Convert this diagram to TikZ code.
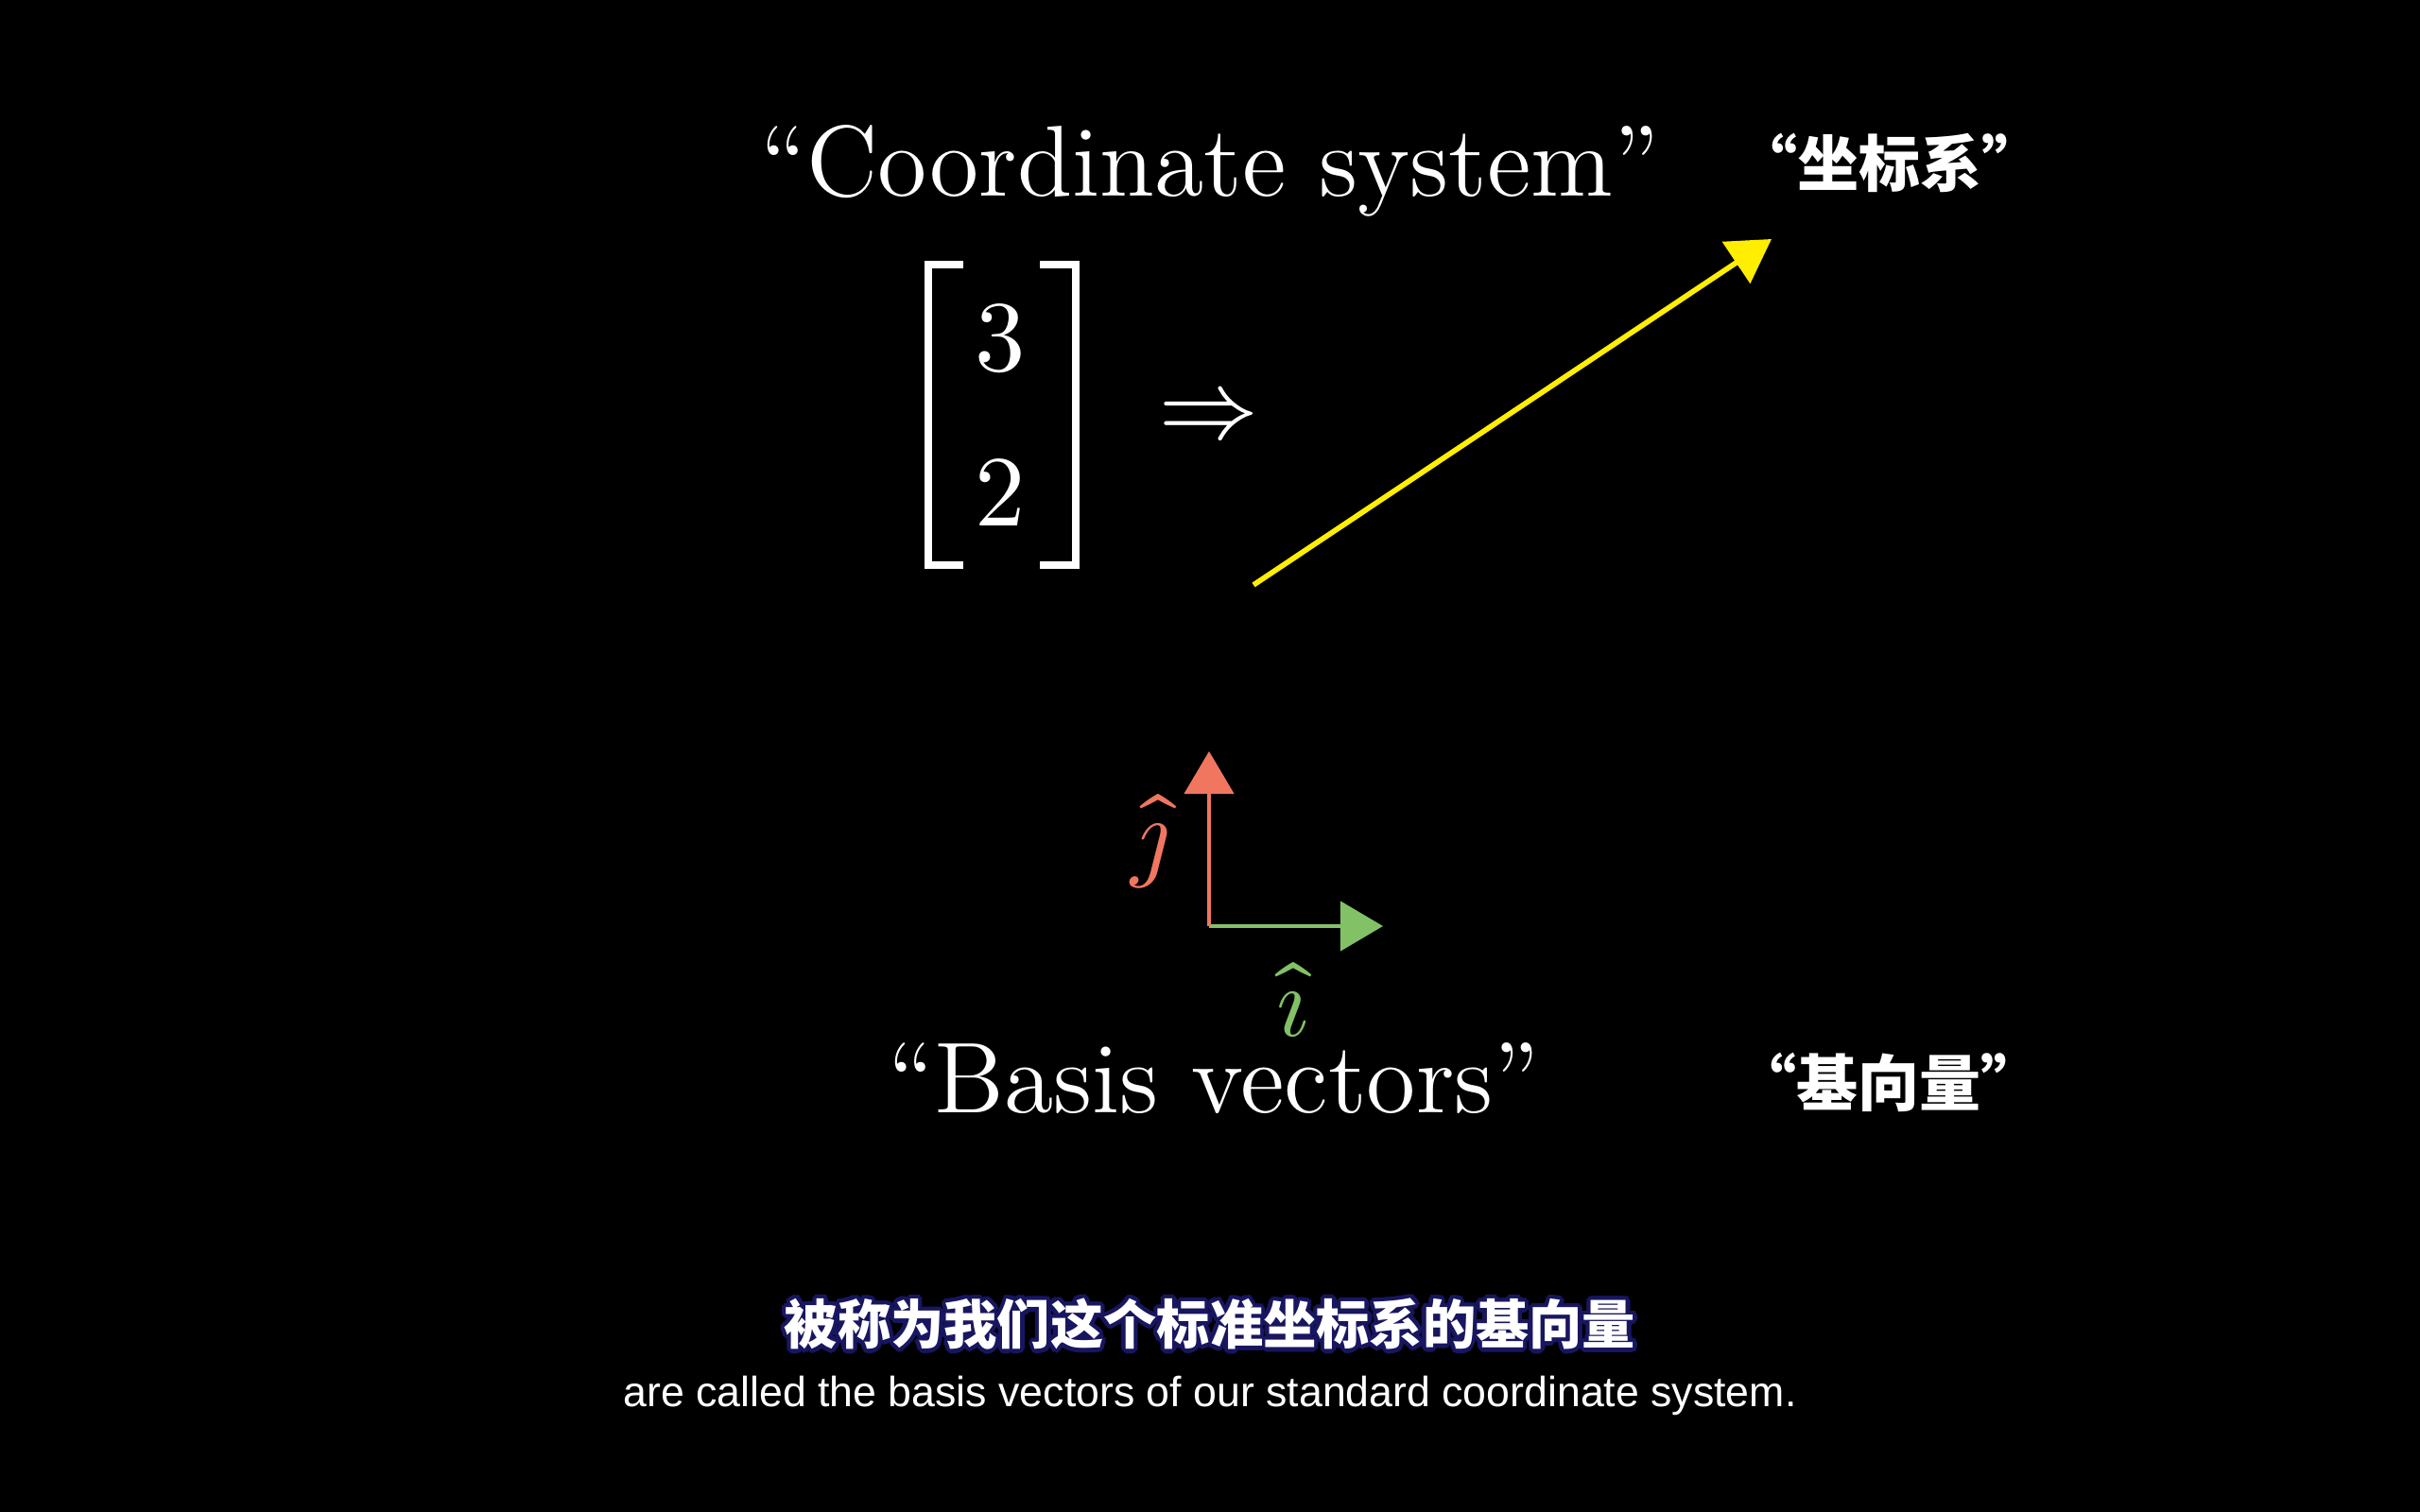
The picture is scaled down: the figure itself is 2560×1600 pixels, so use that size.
\documentclass[tikz,border=0pt]{standalone}
\usepackage{amsmath}
\usepackage{fontspec}
\usepackage{unicode-math}
\setmainfont{lmroman12-regular.otf}
\setmathfont{Latin Modern Math}
\setsansfont{Liberation Sans}
\newfontfamily\cjk{Noto Sans CJK SC}
\usetikzlibrary{arrows.meta,calc}
\definecolor{vecyellow}{RGB}{255,238,0}
\definecolor{icol}{RGB}{131,193,103}
\definecolor{jcol}{RGB}{240,118,96}
\definecolor{glowblue}{RGB}{24,22,96}

\begin{document}
\begin{tikzpicture}[x=0.01cm,y=-0.01cm,
    big/.style={text=white,font=\fontsize{30.3}{36}\selectfont,inner sep=0pt},
    cnlabel/.style={text=white,font=\cjk\bfseries\fontsize{18.5}{22}\selectfont,inner sep=0pt},
    subcn/.style={font=\cjk\bfseries\fontsize{16}{19}\selectfont,inner sep=0pt},
    bracket/.style={draw=white,line width=2.3pt,miter limit=10},
    vec/.style={line width=1.3pt,-{Triangle[length=4.5mm,width=5.2mm]}}]
    \fill[black] (0,0) rectangle (2560,1600);

    \node[big,anchor=base] (title) at (1280,208) {``Coordinate system''};
    \node[cnlabel] (titlecn) at (1999,172) {“坐标系”};

    \begin{scope}
        \node[big] (three) at (1058,358) {$3$};
        \node[big] (two) at (1058,521) {$2$};
        \draw[bracket] (1019,280) -- (982,280) -- (982,598) -- (1019,598);
        \draw[bracket] (1100,280) -- (1138,280) -- (1138,598) -- (1100,598);
        \node[big] (implies) at (1279,438) {$\Rightarrow$};
    \end{scope}

    \begin{scope}
        \coordinate (tail) at (1326,619);
        \coordinate (head) at (1874,253);
        \draw[vec,vecyellow,line width=1.6pt] (tail) -- (head);
    \end{scope}

    \begin{scope}
        \coordinate (o) at (1279,980);
        \coordinate (itip) at (1463,980);
        \coordinate (jtip) at (1279,795);
        \draw[vec,icol] (o) -- (itip);
        \draw[vec,jcol] (o) -- (jtip);
        \node[big,text=jcol] (jlabel) at (1217,890) {$\hat{\jmath}$};
        \node[big,text=icol] (ilabel) at (1368,1058) {$\hat{\imath}$};
    \end{scope}

    \node[big,anchor=base] (basis) at (1284,1177) {``Basis vectors''};
    \node[cnlabel] (basiscn) at (1998,1145) {“基向量”};

    % subtitles
    \coordinate (sub) at (1280,1401);
    \foreach \a in {0,30,...,330}{
        \node[subcn,text=glowblue] (glow\a) at ($(sub)+(\a:4.5)$) {被称为我们这个标准坐标系的基向量};
    }
    \node[subcn,text=white] (subcn) at (sub) {被称为我们这个标准坐标系的基向量};
    \node[text=white,inner sep=0pt,anchor=base,font=\sffamily\fontsize{12.7}{15}\selectfont] (suben) at (1280,1488)
        {are called the basis vectors of our standard coordinate system.};
\end{tikzpicture}
\end{document}
